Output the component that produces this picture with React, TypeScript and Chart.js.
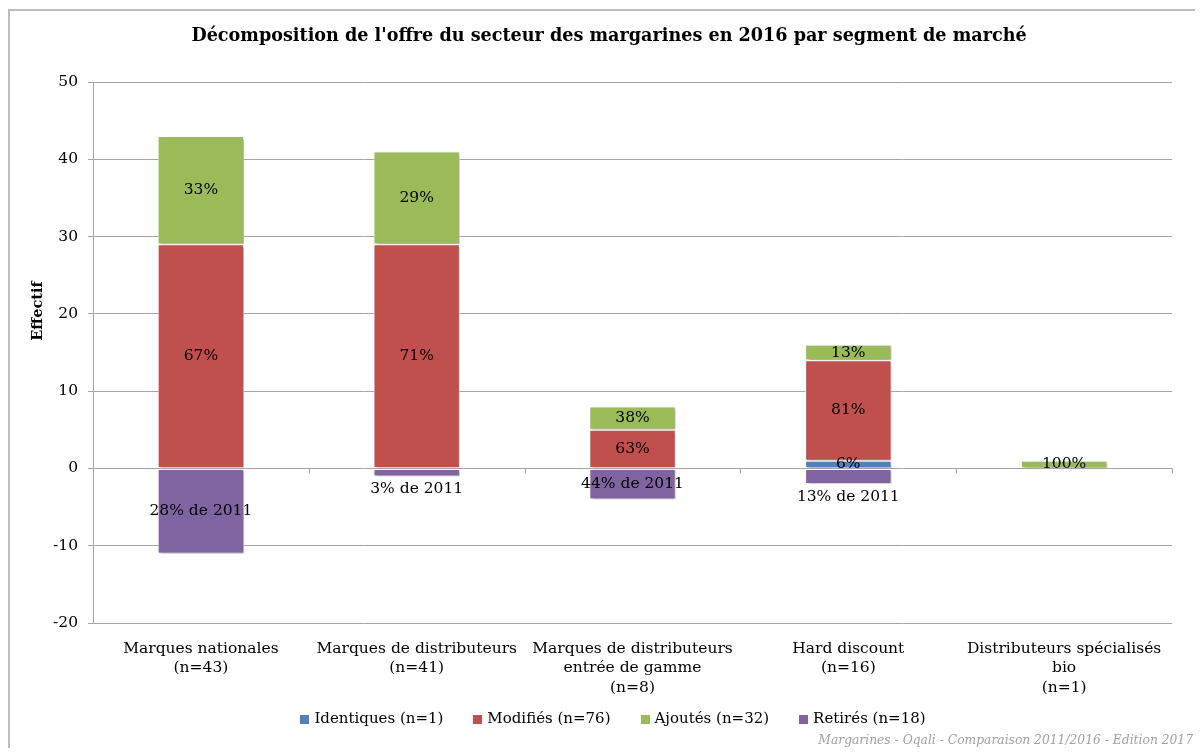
import React, { useEffect, useRef } from "react";
import { Chart, registerables } from "chart.js";

Chart.register(...registerables);

const TITLE = "Décomposition de l'offre du secteur des margarines en 2016 par segment de marché";
const Y_TITLE = "Effectif";
const FOOTER = "Margarines - Oqali - Comparaison 2011/2016 - Edition 2017";

const categories: string[][] = [
  ["Marques nationales", "(n=43)"],
  ["Marques de distributeurs", "(n=41)"],
  ["Marques de distributeurs", "entrée de gamme", "(n=8)"],
  ["Hard discount", "(n=16)"],
  ["Distributeurs spécialisés", "bio", "(n=1)"],
];

const seriesNames = ["Identiques (n=1)", "Modifiés (n=76)", "Ajoutés (n=32)", "Retirés (n=18)"];
const seriesColors = ["#4F81BD", "#C0504D", "#9BBB59", "#8064A2"];

const identiques = [0, 0, 0, 1, 0];
const modifies = [29, 29, 5, 13, 0];
const ajoutes = [14, 12, 3, 2, 1];
const retires = [-11, -1, -4, -2, 0];

const identiquesLabels = ["", "", "", "6%", ""];
const modifiesLabels = ["67%", "71%", "63%", "81%", ""];
const ajoutesLabels = ["33%", "29%", "38%", "13%", "100%"];
const retiresLabels = ["28% de 2011", "3% de 2011", "44% de 2011", "13% de 2011", ""];

const yMin = -20;
const yMax = 50;
const yStep = 10;

const FONT = "'DejaVu Serif', serif";
const GRID = "#a6a6a6";

export default function App() {
  const ref = useRef<HTMLCanvasElement>(null);

  useEffect(() => {
    const canvas = ref.current;
    if (!canvas) return;
    const values = [identiques, modifies, ajoutes, retires];
    const labelSets = [identiquesLabels, modifiesLabels, ajoutesLabels, retiresLabels];

    const custom = {
      id: "custom",
      beforeDraw(chart: any) {
        const { ctx, width, height } = chart;
        ctx.save();
        ctx.fillStyle = "#ffffff";
        ctx.fillRect(0, 0, width, height);
        ctx.strokeStyle = "#bdbdbd";
        ctx.lineWidth = 2;
        ctx.beginPath();
        ctx.moveTo(width, 2);
        ctx.lineTo(1, 2);
        ctx.lineTo(1, height);
        ctx.stroke();
        ctx.restore();
      },
      beforeDatasetsDraw(chart: any) {
        const ctx = chart.ctx;
        ctx.save();
        ctx.shadowColor = "rgba(0,0,0,0.35)";
        ctx.shadowBlur = 3;
        ctx.shadowOffsetX = 1.5;
        ctx.shadowOffsetY = 1.5;
      },
      afterDatasetsDraw(chart: any) {
        const ctx = chart.ctx;
        ctx.restore();
        const { chartArea, scales } = chart;
        const zeroY = scales.y.getPixelForValue(0);
        const n = categories.length;
        const cw = (chartArea.right - chartArea.left) / n;
        ctx.save();
        ctx.strokeStyle = GRID;
        ctx.lineWidth = 1;
        ctx.beginPath();
        for (let i = 1; i <= n; i++) {
          const x = Math.round(chartArea.left + i * cw) + 0.5;
          ctx.moveTo(x, zeroY);
          ctx.lineTo(x, zeroY + 5);
        }
        ctx.stroke();
        ctx.fillStyle = "#000";
        ctx.font = `15.5px ${FONT}`;
        ctx.textAlign = "center";
        ctx.textBaseline = "middle";
        labelSets.forEach((labels, d) => {
          const meta = chart.getDatasetMeta(d);
          meta.data.forEach((el: any, i: number) => {
            const text = labels[i];
            if (!text) return;
            const top = Math.min(el.y, el.base);
            const bottom = Math.max(el.y, el.base);
            let ty = (top + bottom) / 2;
            if (values[d][i] < 0 && bottom - top < 20) ty = bottom + 13;
            ctx.fillText(text, el.x, ty);
          });
        });
        ctx.restore();
      },
      afterDraw(chart: any) {
        const { ctx, width } = chart;
        ctx.save();
        ctx.fillStyle = "#000";
        ctx.textAlign = "center";
        ctx.textBaseline = "middle";
        ctx.font = `bold 17.6px ${FONT}`;
        ctx.fillText(TITLE, 601, 28.5);
        ctx.save();
        ctx.translate(30, 303);
        ctx.rotate(-Math.PI / 2);
        ctx.font = `bold 14.5px ${FONT}`;
        ctx.fillText(Y_TITLE, 0, 0);
        ctx.restore();

        // legend
        ctx.font = `15px ${FONT}`;
        ctx.textAlign = "left";
        const ds = chart.data.datasets;
        const box = 9;
        const gapBox = 5;
        const gapItem = 30;
        const widths = ds.map((d: any) => ctx.measureText(d.label).width);
        const total = widths.reduce((a: number, w: number) => a + box + gapBox + w, 0) + gapItem * (ds.length - 1);
        let x = 605 - total / 2;
        const ly = 711.5;
        ds.forEach((d: any, i: number) => {
          ctx.fillStyle = d.backgroundColor;
          ctx.fillRect(Math.round(x), Math.round(ly - box / 2), box, box);
          ctx.fillStyle = "#000";
          ctx.fillText(d.label, x + box + gapBox, ly);
          x += box + gapBox + widths[i] + gapItem;
        });

        ctx.fillStyle = "#a0a0a0";
        ctx.font = `italic 12.3px ${FONT}`;
        ctx.textAlign = "right";
        ctx.fillText(FOOTER, width - 2, 733);
        ctx.restore();
      },
    };

    const chart = new Chart(canvas, {
      type: "bar",
      data: {
        labels: categories,
        datasets: values.map((v, d) => ({
          label: seriesNames[d],
          data: v,
          backgroundColor: seriesColors[d],
          borderColor: "#ffffff",
          borderWidth: 1,
          borderSkipped: false,
          barPercentage: 0.4,
          categoryPercentage: 1,
        })),
      },
      options: {
        animation: false,
        responsive: false,
        maintainAspectRatio: false,
        layout: { padding: { left: 0, right: 23, top: 74, bottom: 0 } },
        plugins: {
          title: { display: false },
          tooltip: { enabled: false },
          legend: { display: false },
        },
        scales: {
          x: {
            stacked: true,
            grid: { display: false },
            border: { display: false },
            ticks: {
              color: "#000",
              font: { family: FONT, size: 15.5, lineHeight: 1.26 },
              padding: 8,
              maxRotation: 0,
              autoSkip: false,
            },
            afterFit(scale: any) {
              scale.height = 125;
            },
          },
          y: {
            stacked: true,
            min: yMin,
            max: yMax,
            grid: { color: GRID, tickLength: 5, lineWidth: 1 },
            border: { display: true, color: GRID },
            ticks: {
              stepSize: yStep,
              color: "#000",
              padding: 10,
              font: { family: FONT, size: 15.5 },
            },
            afterFit(scale: any) {
              scale.width = 85;
            },
          },
        },
      },
      plugins: [custom],
    });
    return () => chart.destroy();
  }, []);

  return (
    <div style={{ width: 1187, height: 740 }}>
      <canvas ref={ref} width={1187} height={740} style={{ display: "block" }} />
    </div>
  );
}
